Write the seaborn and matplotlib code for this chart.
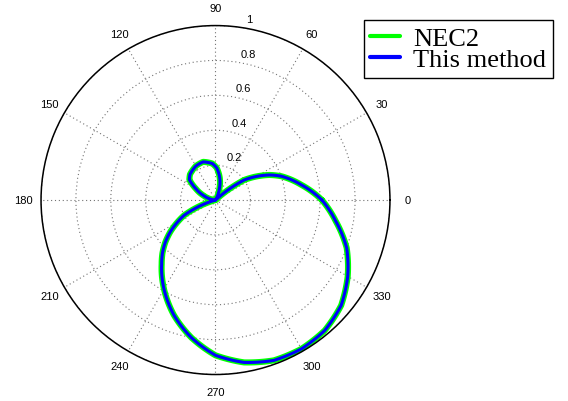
import numpy as np
import pandas as pd
import matplotlib
matplotlib.use("Agg")
import matplotlib.pyplot as plt
import matplotlib.transforms as mtransforms
import seaborn as sns

# ---- data ----
theta_deg = [0, 5, 10, 15, 20, 25, 30, 35, 40, 42, 45, 55, 60, 65, 70, 75, 80, 88, 95,
             108, 120, 135, 142, 150, 155, 160, 168, 175, 185, 196, 200, 203, 206, 210,
             215, 220, 225, 230, 240, 250, 260, 270, 280, 290, 300, 310, 320, 330, 340,
             350, 360]
r_nec2 = [0.61, 0.555, 0.50, 0.45, 0.40, 0.34, 0.27, 0.20, 0.06, 0.0, 0.0, 0.0, 0.0,
          0.03, 0.06, 0.10, 0.135, 0.185, 0.21, 0.23, 0.225, 0.207, 0.19, 0.13, 0.10,
          0.07, 0.035, 0.0, 0.0, 0.0, 0.08, 0.14, 0.20, 0.25, 0.315, 0.375, 0.43, 0.48,
          0.59, 0.70, 0.80, 0.89, 0.945, 0.978, 0.985, 0.975, 0.94, 0.875, 0.80, 0.70,
          0.61]
r_method = [0.61, 0.555, 0.50, 0.45, 0.40, 0.34, 0.27, 0.20, 0.06, 0.0, 0.0, 0.0, 0.0,
            0.03, 0.06, 0.10, 0.135, 0.185, 0.21, 0.23, 0.225, 0.207, 0.19, 0.13, 0.10,
            0.07, 0.035, 0.0, 0.0, 0.0, 0.08, 0.14, 0.20, 0.25, 0.315, 0.375, 0.43, 0.48,
            0.59, 0.70, 0.80, 0.89, 0.945, 0.978, 0.985, 0.975, 0.94, 0.875, 0.80, 0.70,
            0.61]
series_names = ["NEC2", "This method"]
series_colors = ["#00ff00", "#0000ff"]
r_ticks = [0.2, 0.4, 0.6, 0.8, 1.0]
r_tick_labels = ["0.2", "0.4", "0.6", "0.8", "1"]
theta_ticks = [0, 30, 60, 90, 120, 150, 180, 210, 240, 270, 300, 330]
theta_tick_labels = [str(t) for t in theta_ticks]

sns.set_style("white")
plt.rcParams['font.family'] = ['Liberation Sans', 'DejaVu Sans']
plt.rcParams['text.color'] = 'black'

df = pd.concat([
    pd.DataFrame({"theta": np.deg2rad(theta_deg), "r": r_nec2, "series": series_names[0]}),
    pd.DataFrame({"theta": np.deg2rad(theta_deg), "r": r_method, "series": series_names[1]}),
], ignore_index=True)

fig = plt.figure(figsize=(5.68, 4.02), dpi=100)
ax = fig.add_axes([0.0722, 0.0659, 0.6144, 0.868], projection='polar')

widths = [4.4, 2.2]
for name, col, lw in zip(series_names, series_colors, widths):
    sub = df[df["series"] == name]
    sns.lineplot(data=sub, x="theta", y="r", ax=ax, sort=False, estimator=None,
                 color=col, linewidth=lw, label=name, legend=False)

# draw segments as curves in (theta, r) space
for ln in ax.lines:
    ln.get_path()._interpolation_steps = 40

ax.set_ylim(0, 1)
ax.set_xlabel("")
ax.set_ylabel("")
ax.set_thetagrids(theta_ticks, theta_tick_labels)
ax.set_rgrids(r_ticks, [""] * len(r_ticks))
ax.grid(True, color="0.45", linestyle=(0, (1, 2.5)), linewidth=0.8)
ax.spines['polar'].set_color('black')
ax.spines['polar'].set_linewidth(1.1)
ax.tick_params(axis='x', pad=2, labelsize=8, colors='black')

# radial labels
offset = mtransforms.offset_copy(ax.transData, fig=fig, x=6, y=3, units='dots')
for rv, lab in zip(r_ticks, r_tick_labels):
    ax.text(np.deg2rad(82), rv, lab, transform=offset, ha='left', va='bottom',
            fontsize=8, color='black')

handles = [plt.Line2D([], [], color=c, linewidth=3) for c in series_colors]
leg = fig.legend(handles, series_names, loc='upper right',
                 bbox_to_anchor=(0.9736, 0.947), frameon=True, fancybox=False,
                 prop={'family': 'Liberation Serif', 'size': 19},
                 handlelength=1.12, handletextpad=0.52, labelspacing=-0.11,
                 borderpad=0.25, borderaxespad=0.0, framealpha=1,
                 labelcolor='black')
leg.get_frame().set_edgecolor('black')
leg.get_frame().set_linewidth(1.0)

fig.savefig("out.png", dpi=100)
